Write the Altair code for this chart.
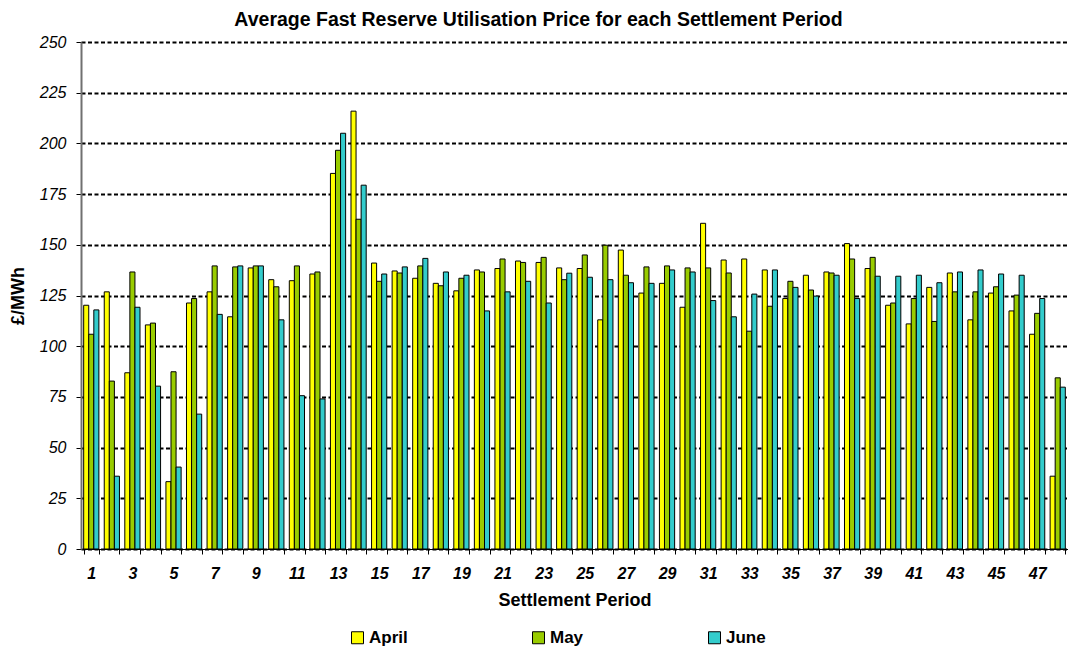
import altair as alt
import pandas as pd

periods = list(range(1, 49))
months = ["April", "May", "June"]
colors = ["#FFFF00", "#99CC00", "#33CCCC"]

april = [120.2, 126.8, 86.9, 110.5, 33.2, 121.3, 126.8, 114.5, 138.6, 132.8,
         132.3, 135.6, 185.2, 215.9, 141.0, 137.1, 133.5, 131.0, 127.3, 137.6,
         138.3, 142.0, 141.3, 138.6, 138.3, 113.0, 147.4, 126.2, 131.0, 119.2,
         160.6, 142.5, 143.0, 137.6, 123.5, 135.0, 136.6, 150.6, 138.3, 120.2,
         111.0, 129.0, 136.1, 113.0, 126.2, 117.4, 105.9, 35.9]
may = [105.9, 82.8, 136.6, 111.4, 87.4, 123.5, 139.6, 139.1, 139.6, 129.3,
       139.6, 136.6, 196.6, 162.6, 132.0, 136.1, 139.6, 129.8, 133.5, 136.6,
       143.0, 141.3, 143.8, 132.8, 145.0, 149.8, 135.0, 139.1, 139.6, 138.6,
       138.6, 136.1, 107.4, 119.7, 132.0, 127.7, 136.1, 143.0, 143.8, 121.3,
       123.5, 112.2, 126.8, 126.8, 129.3, 125.2, 116.2, 84.4]
june = [117.9, 35.9, 119.2, 80.3, 40.4, 66.5, 115.7, 139.6, 139.6, 113.0,
        75.6, 74.0, 205.0, 179.4, 135.6, 139.1, 143.3, 136.6, 135.0, 117.4,
        126.8, 132.0, 121.3, 136.0, 134.0, 132.8, 131.3, 131.0, 137.6, 136.6,
        122.5, 114.5, 125.7, 137.6, 129.0, 124.7, 135.0, 123.5, 134.5, 134.5,
        135.0, 131.3, 136.6, 137.6, 135.6, 135.0, 123.5, 79.8]

y_ticks = list(range(0, 251, 25))

rows = []
for m, vals in zip(months, [april, may, june]):
    for p, v in zip(periods, vals):
        rows.append({"period": p, "month": m, "price": v})
df = pd.DataFrame(rows)

FONT = "Liberation Sans"
W, H = 987, 507

chart = alt.Chart(df).mark_bar(stroke="black", strokeWidth=1).encode(
    x=alt.X(
        "period:O",
        title="Settlement Period",
        scale=alt.Scale(paddingInner=0.26, paddingOuter=0.13),
        axis=alt.Axis(
            labelAngle=0,
            labelExpr="datum.value % 2 == 1 ? datum.label : ''",
            labelOverlap=False,
            tickBand="extent",
            tickSize=5,
            tickColor="black",
            domainColor="black",
            labelFont=FONT,
            labelFontSize=16,
            labelFontWeight="bold",
            labelFontStyle="italic",
            labelColor="black",
            labelPadding=11,
            titleFont=FONT,
            titleFontSize=18,
            titleFontWeight="bold",
            titleColor="black",
            titlePadding=10.5,
            grid=False,
        ),
    ),
    xOffset=alt.XOffset("month:N", sort=months, scale=alt.Scale(domain=months)),
    y=alt.Y(
        "price:Q",
        title="£/MWh",
        scale=alt.Scale(domain=[0, 250], nice=False),
        axis=alt.Axis(
            values=y_ticks,
            grid=True,
            gridColor="black",
            gridDash=[4, 2.5],
            gridWidth=2,
            tickSize=5,
            tickColor="black",
            domainColor="#707070",
            domainWidth=2,
            labelFont=FONT,
            labelFontSize=16,
            labelFontStyle="italic",
            labelColor="black",
            labelPadding=10,
            titleFont=FONT,
            titleFontSize=18,
            titleFontWeight="bold",
            titleColor="black",
            titleX=-54,
            titleY=H / 2,
        ),
    ),
    color=alt.Color(
        "month:N",
        sort=months,
        scale=alt.Scale(domain=months, range=colors),
        legend=alt.Legend(
            title=None,
            orient="none",
            direction="horizontal",
            legendX=268,
            legendY=587,
            columnPadding=122,
            symbolType="square",
            symbolSize=144,
            symbolStrokeColor="black",
            symbolStrokeWidth=1,
            labelFont=FONT,
            labelFontSize=17,
            labelFontWeight="bold",
            labelColor="black",
            labelOffset=3,
        ),
    ),
).properties(
    width=W,
    height=H,
    autosize=alt.AutoSizeParams(type="none"),
    padding={"left": 73, "top": 34, "right": 0, "bottom": 104},
    title=alt.TitleParams(
        "Average Fast Reserve Utilisation Price for each Settlement Period",
        font=FONT,
        fontSize=19.5,
        fontWeight="bold",
        color="black",
        anchor="middle",
        frame="bounds",
        offset=4,
    ),
).configure_view(stroke=None)

chart.save("out.html", embed_options={"renderer": "svg", "actions": False})
